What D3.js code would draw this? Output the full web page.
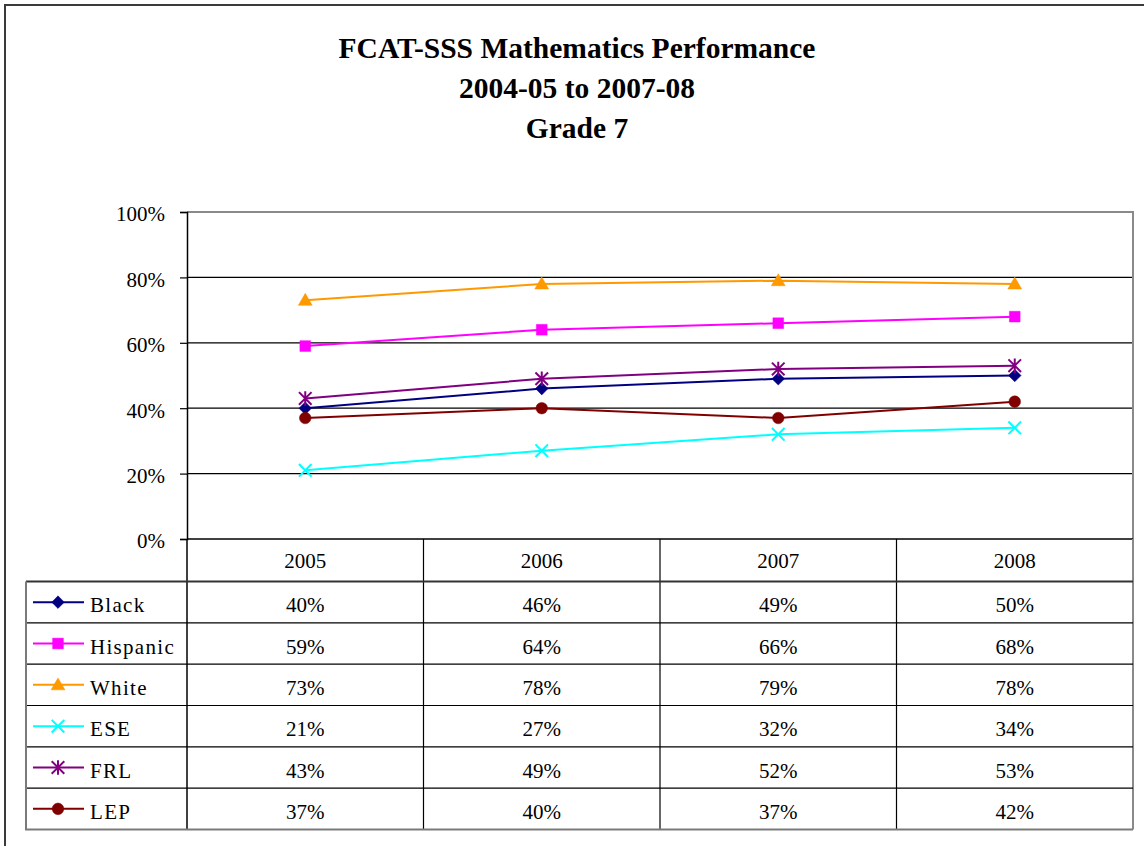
<!DOCTYPE html>
<html>
<head>
<meta charset="utf-8">
<script src="https://cdn.jsdelivr.net/npm/d3@7"></script>
<style>
html,body{margin:0;padding:0;background:#fff;}
svg{display:block;}
text{font-family:"Liberation Serif","Times New Roman",serif;fill:#000;}
</style>
</head>
<body>
<svg id="chart" width="1144" height="846"></svg>
<script>
const titleLines = ["FCAT-SSS Mathematics Performance", "2004-05 to 2007-08", "Grade 7"];
const categories = ["2005", "2006", "2007", "2008"];
const seriesNames = ["Black", "Hispanic", "White", "ESE", "FRL", "LEP"];
const black    = [0.40, 0.46, 0.49, 0.50];
const hispanic = [0.59, 0.64, 0.66, 0.68];
const white    = [0.73, 0.78, 0.79, 0.78];
const ese      = [0.21, 0.27, 0.32, 0.34];
const frl      = [0.43, 0.49, 0.52, 0.53];
const lep      = [0.37, 0.40, 0.37, 0.42];
const yTicks = [0, 0.2, 0.4, 0.6, 0.8, 1.0];
const colors = ["#000080", "#FF00FF", "#FF9900", "#00FFFF", "#800080", "#800000"];
const markers = ["diamond", "square", "triangle", "x", "star", "circle"];

const series = seriesNames.map((name, i) => ({
  name, values: [black, hispanic, white, ese, frl, lep][i], color: colors[i], marker: markers[i]
}));

const svg = d3.select("#chart");

// outer chart border (extends beyond the picture on right/bottom)
svg.append("rect").attr("x", 5).attr("y", 5).attr("width", 1300).attr("height", 1000)
  .attr("fill", "none").attr("stroke", "#3a3a3a").attr("stroke-width", 2);

// title
const title = svg.append("g");
const titleBase = [58, 98, 138];
titleLines.forEach((t, i) => {
  title.append("text").attr("x", 577).attr("y", titleBase[i])
    .attr("text-anchor", "middle").attr("font-weight", "bold").attr("font-size", 29.5)
    .text(t);
});

const plotLeft = 187, plotRight = 1133, plotTop = 212, plotBottom = 539;
const x = d3.scaleBand().domain(categories).range([plotLeft, plotRight]).padding(0);
const y = d3.scaleLinear().domain([0, 1]).range([plotBottom, plotTop]);

// gridlines
svg.append("g").selectAll("line").data(yTicks.filter(d => d > 0 && d < 1)).join("line")
  .attr("x1", plotLeft).attr("x2", plotRight)
  .attr("y1", d => y(d)).attr("y2", d => y(d))
  .attr("stroke", "#000").attr("stroke-width", 1.2);

// plot area border top/right (gray)
svg.append("path")
  .attr("d", `M${plotLeft},${y(1)}H${plotRight}V${plotBottom}`)
  .attr("fill", "none").attr("stroke", "#8a8a8a").attr("stroke-width", 2);

// y axis
const yAxis = svg.append("g").attr("transform", `translate(${plotLeft},0)`)
  .call(d3.axisLeft(y).tickValues(yTicks).tickFormat(d3.format(".0%")).tickSize(7).tickPadding(15));
yAxis.select(".domain").attr("stroke", "#000").attr("stroke-width", 1.5);
yAxis.selectAll(".tick line").attr("stroke", "#000").attr("stroke-width", 1.2);
yAxis.selectAll(".tick text").attr("font-size", 21).attr("font-family", "Liberation Serif")
  .attr("fill", "#000").attr("dy", "0.42em");

// x axis line (0%)
svg.append("line").attr("x1", plotLeft).attr("x2", plotRight).attr("y1", plotBottom).attr("y2", plotBottom)
  .attr("stroke", "#000").attr("stroke-width", 1.5);

// marker drawing
function markerPath(type, s) {
  switch (type) {
    case "diamond": return `M0,${-s}L${s},0L0,${s}L${-s},0Z`;
    case "square": return `M${-s*0.85},${-s*0.85}H${s*0.85}V${s*0.85}H${-s*0.85}Z`;
    case "triangle": return `M0,${-s*1.1}L${s*1.1},${s*0.8}L${-s*1.1},${s*0.8}Z`;
    case "x": return `M${-s},${-s}L${s},${s}M${-s},${s}L${s},${-s}`;
    case "star": return `M${-s},${-s}L${s},${s}M${-s},${s}L${s},${-s}M0,${-s*1.15}V${s*1.15}`;
    case "circle": return d3.arc()({innerRadius: 0, outerRadius: s*0.92, startAngle: 0, endAngle: 2*Math.PI});
  }
}
function drawMarker(g, type, color, cx, cy, s) {
  const stroked = (type === "x" || type === "star");
  g.append("path").attr("transform", `translate(${cx},${cy})`)
    .attr("d", markerPath(type, s))
    .attr("fill", stroked ? "none" : color)
    .attr("stroke", color).attr("stroke-width", stroked ? 2 : 0.5);
}

const line = d3.line().x((d, i) => x(categories[i]) + x.bandwidth() / 2).y(d => y(d));
const lines = svg.append("g");
series.forEach(s => {
  lines.append("path").datum(s.values).attr("d", line)
    .attr("fill", "none").attr("stroke", s.color).attr("stroke-width", 2);
});
series.forEach(s => {
  s.values.forEach((v, i) => {
    drawMarker(lines, s.marker, s.color, x(categories[i]) + x.bandwidth() / 2, y(v), 6.3);
  });
});

// data table
const tableLeft = 26, headerBottom = 581.5, tableBottom = 829.5;
const rowH = (tableBottom - headerBottom) / series.length;
const tbl = svg.append("g");
// header labels
categories.forEach(c => {
  tbl.append("text").attr("x", x(c) + x.bandwidth() / 2).attr("y", (plotBottom + headerBottom) / 2 + 8)
    .attr("text-anchor", "middle").attr("font-size", 21).text(c);
});
// vertical lines in header and body
categories.forEach((c, i) => {
  if (i === 0) return;
  tbl.append("line").attr("x1", x(c)).attr("x2", x(c)).attr("y1", plotBottom).attr("y2", tableBottom)
    .attr("stroke", "#000").attr("stroke-width", 1.2);
});
tbl.append("line").attr("x1", plotLeft).attr("x2", plotLeft).attr("y1", plotBottom).attr("y2", tableBottom)
  .attr("stroke", "#000").attr("stroke-width", 1.5);
tbl.append("line").attr("x1", plotRight).attr("x2", plotRight).attr("y1", plotBottom).attr("y2", tableBottom)
  .attr("stroke", "#8a8a8a").attr("stroke-width", 2);
// horizontal lines
series.forEach((s, r) => {
  if (r === 0) return;
  const yy = headerBottom + r * rowH;
  tbl.append("line").attr("x1", tableLeft).attr("x2", plotRight).attr("y1", yy).attr("y2", yy)
    .attr("stroke", "#000").attr("stroke-width", 1.2);
});
tbl.append("line").attr("x1", tableLeft).attr("x2", plotRight).attr("y1", headerBottom).attr("y2", headerBottom)
  .attr("stroke", "#333").attr("stroke-width", 1.8);
tbl.append("path").attr("d", `M${tableLeft},${headerBottom}V${tableBottom}H${plotRight}`)
  .attr("fill", "none").attr("stroke", "#7a7a7a").attr("stroke-width", 2);

// rows
const pct = d3.format(".0%");
series.forEach((s, r) => {
  const cy = headerBottom + r * rowH + rowH / 2;
  tbl.append("line").attr("x1", 33).attr("x2", 84).attr("y1", cy).attr("y2", cy)
    .attr("stroke", s.color).attr("stroke-width", 2);
  drawMarker(tbl, s.marker, s.color, 58, cy, 6.3);
  tbl.append("text").attr("x", 90).attr("y", cy + 10).attr("font-size", 21)
    .attr("letter-spacing", 1.3).text(s.name);
  s.values.forEach((v, i) => {
    tbl.append("text").attr("x", x(categories[i]) + x.bandwidth() / 2).attr("y", cy + 10)
      .attr("text-anchor", "middle").attr("font-size", 21).text(pct(v));
  });
});
</script>
</body>
</html>
